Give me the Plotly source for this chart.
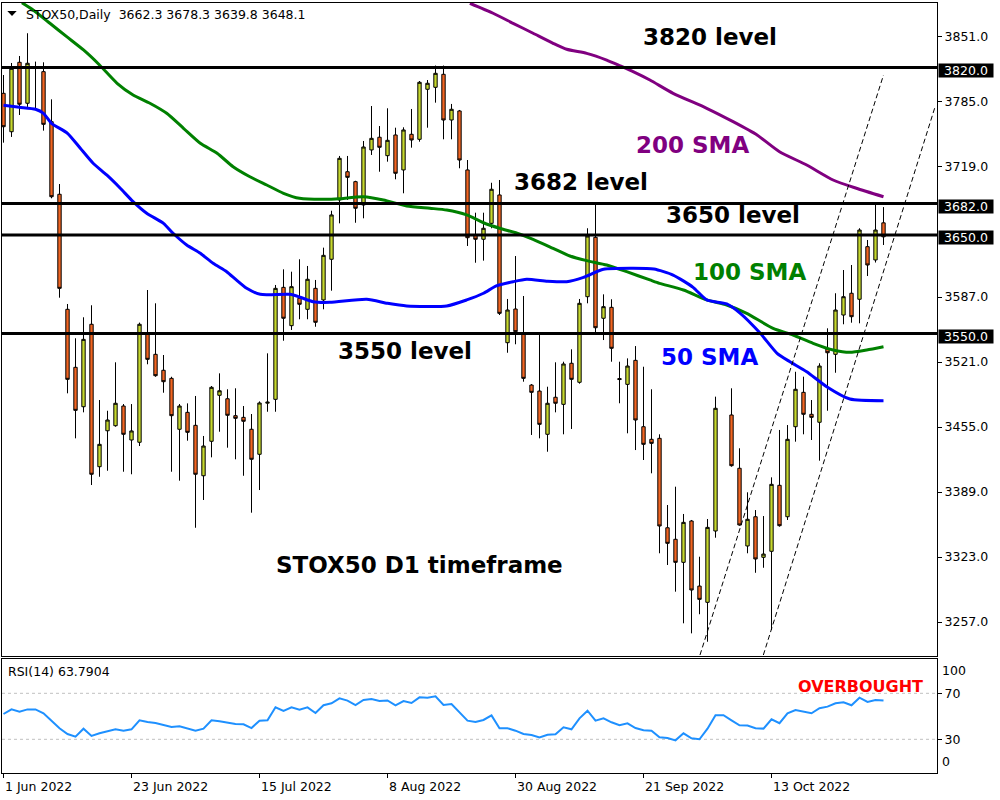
import plotly.graph_objects as go

# ---------------- data ----------------
# bar slots (one slot per trading day); slot 90 has no candle in the chart
bar_pos = list(range(0, 90)) + list(range(91, 111))

opens = [
    3793.8, 3754.8, 3825.3, 3783.7, 3819.0, 3815.8, 3765.0, 3691.3, 3574.5, 3515.6,
    3475.6, 3559.3, 3414.7, 3451.2, 3456.3, 3476.3, 3441.8, 3439.5, 3549.1, 3528.8,
    3512.6, 3504.4, 3452.7, 3469.9, 3456.7, 3405.5, 3440.5, 3487.2, 3483.7, 3466.5,
    3464.8, 3452.7, 3427.3, 3479.2, 3483.1, 3596.8, 3557.9, 3585.7, 3574.5, 3595.8,
    3584.0, 3625.3, 3685.5, 3714.2, 3704.1, 3680.4, 3736.3, 3749.2, 3730.5, 3751.5,
    3716.0, 3752.2, 3747.1, 3797.9, 3799.9, 3813.1, 3766.7, 3775.9, 3716.0, 3649.9,
    3645.6, 3661.8, 3690.6, 3540.6, 3574.8, 3550.1, 3497.6, 3491.5, 3447.6, 3485.2,
    3478.0, 3519.7, 3500.4, 3587.3, 3647.6, 3565.4, 3576.5, 3504.2, 3498.3, 3522.7,
    3455.3, 3442.5, 3443.5, 3352.7, 3341.0, 3317.6, 3359.6, 3293.5, 3277.0, 3349.4,
    3467.2, 3413.1, 3334.2, 3363.9, 3322.7, 3328.8, 3395.8, 3363.9, 3455.3, 3490.2,
    3467.9, 3459.8, 3534.2, 3528.8, 3568.7, 3590.8, 3584.7, 3638.1, 3624.6, 3662.3,
]
highs = [
    3812.4, 3824.6, 3831.7, 3854.8, 3826.0, 3825.3, 3787.7, 3701.7, 3579.9, 3545.1,
    3566.4, 3578.6, 3482.4, 3471.5, 3520.7, 3478.3, 3478.3, 3561.0, 3594.1, 3580.6,
    3528.1, 3506.0, 3478.3, 3479.0, 3486.5, 3445.9, 3496.6, 3509.5, 3493.3, 3494.3,
    3476.3, 3468.2, 3481.0, 3529.8, 3599.2, 3615.1, 3612.7, 3625.3, 3618.5, 3604.3,
    3637.1, 3674.6, 3730.2, 3730.2, 3705.0, 3745.4, 3780.9, 3760.6, 3778.6, 3758.9,
    3759.3, 3777.9, 3806.3, 3807.3, 3822.0, 3822.0, 3783.0, 3776.9, 3726.1, 3672.6,
    3672.6, 3703.0, 3705.8, 3585.0, 3628.6, 3588.0, 3498.6, 3548.4, 3495.9, 3520.7,
    3521.3, 3533.9, 3585.0, 3656.8, 3682.0, 3589.7, 3584.7, 3521.3, 3524.7, 3537.2,
    3516.2, 3493.3, 3447.6, 3375.8, 3394.4, 3366.7, 3360.6, 3323.3, 3361.6, 3485.8,
    3494.3, 3433.4, 3388.7, 3370.7, 3364.6, 3403.9, 3452.0, 3457.0, 3511.1, 3506.1,
    3482.4, 3519.7, 3555.2, 3590.8, 3614.4, 3619.5, 3656.8, 3644.9, 3682.1, 3678.3,
]
lows = [
    3743.7, 3749.5, 3771.8, 3780.0, 3777.0, 3755.9, 3687.2, 3586.3, 3489.2, 3443.5,
    3469.9, 3396.1, 3404.5, 3410.6, 3455.3, 3409.6, 3407.0, 3435.7, 3518.7, 3506.0,
    3489.8, 3409.6, 3400.5, 3441.1, 3352.7, 3380.9, 3424.2, 3450.2, 3434.0, 3422.2,
    3405.5, 3368.0, 3391.0, 3470.5, 3470.5, 3542.6, 3553.5, 3564.4, 3564.4, 3556.8,
    3574.5, 3593.4, 3661.8, 3685.5, 3662.4, 3666.9, 3731.2, 3714.2, 3724.4, 3706.5,
    3692.3, 3738.6, 3744.7, 3758.9, 3784.3, 3747.1, 3747.1, 3717.7, 3638.8, 3621.8,
    3623.9, 3656.8, 3568.7, 3530.4, 3539.0, 3501.0, 3446.9, 3443.5, 3429.9, 3469.9,
    3447.6, 3453.0, 3499.0, 3580.6, 3549.1, 3543.3, 3521.3, 3479.1, 3448.6, 3431.6,
    3421.5, 3408.0, 3326.8, 3314.9, 3287.8, 3255.7, 3245.5, 3264.9, 3237.0, 3342.6,
    3414.7, 3354.8, 3326.8, 3307.0, 3312.1, 3248.9, 3353.8, 3360.6, 3440.1, 3447.6,
    3441.8, 3420.8, 3471.5, 3510.1, 3559.3, 3560.9, 3560.3, 3608.3, 3622.0, 3639.8,
]
closes = [
    3759.9, 3819.2, 3782.7, 3824.3, 3821.0, 3762.3, 3688.8, 3595.8, 3503.4, 3471.9,
    3544.0, 3407.0, 3437.4, 3462.1, 3479.1, 3447.6, 3451.0, 3559.3, 3523.7, 3507.1,
    3501.0, 3466.5, 3476.3, 3449.6, 3407.0, 3435.7, 3495.3, 3491.8, 3466.9, 3463.8,
    3460.8, 3422.2, 3479.4, 3480.2, 3595.8, 3565.4, 3597.5, 3579.6, 3605.0, 3561.3,
    3629.3, 3670.3, 3727.8, 3708.5, 3677.1, 3739.3, 3748.1, 3739.0, 3746.1, 3712.6,
    3756.6, 3746.4, 3805.0, 3804.0, 3814.1, 3766.7, 3777.6, 3726.1, 3647.2, 3645.6,
    3656.8, 3696.4, 3570.4, 3573.8, 3551.8, 3504.4, 3490.2, 3457.7, 3479.1, 3479.1,
    3519.0, 3503.4, 3580.6, 3648.9, 3555.8, 3577.2, 3534.9, 3503.2, 3516.9, 3462.1,
    3437.4, 3438.4, 3354.5, 3336.9, 3317.6, 3358.2, 3289.5, 3280.0, 3353.1, 3474.0,
    3415.7, 3355.5, 3361.3, 3321.0, 3326.0, 3396.8, 3354.8, 3442.5, 3493.3, 3467.9,
    3464.8, 3516.9, 3530.4, 3573.8, 3587.3, 3567.0, 3655.0, 3619.5, 3655.0, 3648.1,
]

rsi_pos = list(range(0, 111))
rsi_vals = [
    52.0, 56.1, 54.0, 56.0, 56.0, 52.6, 46.2, 39.6, 34.6, 32.3,
    39.2, 32.9, 35.2, 37.2, 38.7, 37.5, 38.7, 46.5, 45.0, 44.2,
    42.7, 40.7, 41.3, 39.6, 37.5, 39.2, 46.5, 45.6, 44.2, 43.4,
    43.1, 39.8, 46.2, 46.5, 57.8, 54.6, 57.8, 55.7, 57.8, 52.9,
    59.6, 61.3, 65.6, 63.6, 59.8, 64.2, 65.0, 63.3, 63.8, 59.6,
    63.3, 61.6, 66.5, 66.2, 67.4, 59.8, 60.7, 53.5, 46.2, 45.0,
    46.8, 50.8, 39.6, 39.6, 37.5, 34.6, 33.7, 31.7, 34.0, 34.3,
    40.4, 38.7, 48.2, 54.9, 46.2, 48.2, 44.8, 42.2, 43.9, 39.8,
    37.8, 37.5, 31.7, 31.2, 29.1, 35.2, 30.9, 30.0, 39.2, 50.9,
    50.9, 46.5, 42.2, 42.0, 39.6, 39.3, 47.4, 44.0, 52.6, 55.5,
    54.0, 52.6, 57.0, 58.4, 61.3, 62.2, 59.6, 66.2, 62.5, 64.2, 63.8,
]

sma50_pos = [0, 2, 4, 5, 6, 8, 9.6, 11.2, 12.9, 14.6, 16.2, 17.9, 20, 21.2, 22.9, 24.6,
             26.2, 27.9, 29.1, 30.4, 32.1, 35.8, 37.1, 38.7, 40.8, 45.4, 48, 50.4, 55.4,
             57.9, 60, 61.6, 63.7, 65.4, 68, 70.4, 72.5, 75, 78.7, 81.3, 83.7, 86.2, 87.9,
             90.4, 92.1, 94.6, 96.7, 98.3, 100.4, 102.9, 105.8, 110]
sma50_vals = [3781.6, 3779.6, 3777.6, 3773.5, 3763.4, 3753.2, 3738.0, 3722.8, 3710.9, 3697.4,
              3683.8, 3672.0, 3661.8, 3651.7, 3639.8, 3631.4, 3621.2, 3612.7, 3604.3, 3595.8,
              3589.7, 3589.7, 3586.7, 3582.2, 3581.6, 3584.7, 3580.6, 3577.9, 3577.9, 3584.0,
              3590.8, 3598.2, 3602.5, 3605.0, 3603.0, 3602.5, 3607.0, 3615.1, 3616.1, 3615.4,
              3609.3, 3596.8, 3584.0, 3579.9, 3570.4, 3550.1, 3529.8, 3521.3, 3511.1, 3495.9,
              3483.4, 3481.7]

sma100_pos = [2.3, 3.7, 5.8, 7.9, 10, 12, 14.2, 16.2, 18.3, 20.4, 22.5, 24.6, 26.7, 28.7,
              30.8, 32.9, 35, 37, 40.8, 42, 45, 47.5, 50.4, 53.3, 55.4, 57.9, 60, 62, 64.2,
              66.2, 68.7, 70.8, 72.9, 75.4, 77.9, 80.8, 82, 85, 87.9, 90.4, 92.9, 96.2, 98.7,
              101.2, 103.7, 105.8, 107.9, 110]
sma100_vals = [3885.8, 3878.4, 3864.9, 3851.3, 3837.8, 3822.6, 3804.0, 3792.1, 3783.7, 3773.5,
               3758.3, 3743.1, 3732.9, 3719.3, 3709.1, 3700.7, 3692.3, 3687.2, 3686.2, 3686.8,
               3688.8, 3685.5, 3679.4, 3677.1, 3675.3, 3670.3, 3662.4, 3656.8, 3651.7, 3645.6,
               3636.4, 3628.6, 3623.9, 3619.5, 3612.7, 3604.3, 3600.9, 3594.1, 3584.0, 3578.9,
               3570.4, 3555.2, 3548.4, 3540.0, 3533.2, 3530.8, 3533.2, 3536.5]

sma200_pos = [58.3, 61.2, 63.7, 66.2, 68.7, 70.4, 72.9, 75.4, 77.1, 78.7, 80.8, 83.7, 87.9,
              91.2, 94.2, 97, 100.4, 103.7, 106.6, 110]
sma200_vals = [3885.2, 3875.1, 3864.9, 3854.8, 3844.6, 3838.5, 3834.4, 3827.6, 3821.6, 3815.8,
               3807.3, 3793.8, 3778.6, 3765.0, 3751.5, 3734.5, 3721.0, 3705.8, 3697.4, 3688.8]

levels = [3820.0, 3682.0, 3650.0, 3550.0]
price_ticks = [3851.0, 3785.0, 3719.0, 3587.0, 3521.0, 3455.0, 3389.0, 3323.0, 3257.0]
rsi_levels = [70, 30]
rsi_ticks = [70, 30]
rsi_edge_labels = [100, 0]

date_tick_pos = [0, 16, 32, 48, 64, 80, 96]
date_tick_text = ["1 Jun 2022", "23 Jun 2022", "15 Jul 2022", "8 Aug 2022",
                  "30 Aug 2022", "21 Sep 2022", "13 Oct 2022"]

trend_pos = [[87.06, 110.0], [94.98, 116.4]]
trend_price = [[3223.5, 3812.4], [3223.5, 3778.9]]

label_text = ["3820 level", "200 SMA", "3682 level", "3650 level", "100 SMA",
              "50 SMA", "3550 level", "STOX50 D1 timeframe"]
label_pos = [79.8, 78.9, 63.65, 82.7, 86.0, 82.0, 41.65, 33.9]
label_price = [3851.0, 3741.3, 3703.5, 3670.0, 3612.4, 3526.1, 3531.8, 3314.6]
label_color = ["black", "#800080", "black", "black", "#008000", "#0000FF", "black", "black"]

symbol = "STOX50"
timeframe = "Daily"
rsi_period = 14
rsi_last = 63.7904
overbought_pos = 99.15
overbought_val = 75.5

# ---------------- styles ----------------
BULL = "#C6D82E"
BEAR = "#F26522"
FONT = "DejaVu Sans"
SMALL = 12.5
BIG = 23

assert len(bar_pos) == len(opens) == len(highs) == len(lows) == len(closes)
assert len(rsi_pos) == len(rsi_vals)
assert len(sma50_pos) == len(sma50_vals)
assert len(sma100_pos) == len(sma100_vals)
assert len(sma200_pos) == len(sma200_vals)

XR = [-0.1875, 116.6875]

fig = go.Figure()

for pos, vals, col in [(sma100_pos, sma100_vals, "#008000"),
                       (sma50_pos, sma50_vals, "#0000FF"),
                       (sma200_pos, sma200_vals, "#800080")]:
    fig.add_trace(go.Scatter(x=pos, y=vals, mode="lines", xaxis="x", yaxis="y",
                             line=dict(color=col, width=3, shape="spline", smoothing=0.6),
                             hoverinfo="skip", showlegend=False))

fig.add_trace(go.Candlestick(
    x=bar_pos, open=opens, high=highs, low=lows, close=closes,
    xaxis="x", yaxis="y",
    increasing=dict(fillcolor=BULL, line=dict(color="black", width=1)),
    decreasing=dict(fillcolor=BEAR, line=dict(color="black", width=1)),
    whiskerwidth=0, showlegend=False, hoverinfo="skip"))

fig.add_trace(go.Scatter(x=rsi_pos, y=rsi_vals, mode="lines", xaxis="x2", yaxis="y2",
                         line=dict(color="#1E90FF", width=2), hoverinfo="skip", showlegend=False))

shapes = []
for lv in levels:
    shapes.append(dict(type="line", xref="x domain", x0=0, x1=1, yref="y", y0=lv, y1=lv,
                       line=dict(color="black", width=3), layer="above"))
for tp, tv in zip(trend_pos, trend_price):
    shapes.append(dict(type="line", xref="x", yref="y", x0=tp[0], x1=tp[1], y0=tv[0], y1=tv[1],
                       line=dict(color="black", width=1, dash="5px,3px"), layer="above"))
for lv in rsi_levels:
    shapes.append(dict(type="line", xref="x2 domain", x0=0, x1=1, yref="y2", y0=lv, y1=lv,
                       line=dict(color="#C0C0C0", width=1, dash="3px,3px"), layer="below"))
# small drop-down triangle of the chart header
shapes.append(dict(type="path", xref="paper", yref="paper", xsizemode="pixel", ysizemode="pixel",
                   xanchor=0, yanchor=1, path="M5.3,-8 L14.7,-8 L10,-13 Z",
                   fillcolor="black", line=dict(width=0)))

ann = []
for t, p, v, c in zip(label_text, label_pos, label_price, label_color):
    ann.append(dict(text=f"<b>{t}</b>", x=p, y=v, xref="x", yref="y", xanchor="left",
                    yanchor="middle", showarrow=False, borderpad=0,
                    font=dict(family=FONT, size=BIG, color=c)))
for lv in levels:
    ann.append(dict(text=f"{lv:.1f}", x=1.0007, y=lv, xref="paper", yref="y", xanchor="left",
                    yanchor="middle", showarrow=False, bgcolor="black", borderpad=0,
                    width=54, height=13, yshift=-3, align="center",
                    font=dict(family=FONT, size=SMALL, color="white")))
for p, t in zip(date_tick_pos, date_tick_text):
    ann.append(dict(text=t, x=p, y=-0.0169, xref="x2", yref="paper", xanchor="left",
                    yanchor="middle", showarrow=False, borderpad=0,
                    font=dict(family=FONT, size=SMALL, color="black")))
for v in rsi_edge_labels:
    ann.append(dict(text=str(v), x=1.004, y=1 if v == 100 else 0, xref="paper",
                    yref="y2 domain", xanchor="left",
                    yanchor="top" if v == 100 else "bottom", yshift=-3 if v == 100 else 3,
                    showarrow=False, borderpad=0,
                    font=dict(family=FONT, size=SMALL, color="black")))
header = (f"{symbol},{timeframe}&nbsp;&nbsp;{opens[-1]:.1f} {highs[-1]:.1f} "
          f"{lows[-1]:.1f} {closes[-1]:.1f}")
ann.append(dict(text=header, x=0.0246, y=0.9853, xref="paper", yref="paper",
                xanchor="left", yanchor="middle", showarrow=False, borderpad=0,
                font=dict(family=FONT, size=SMALL, color="black")))
ann.append(dict(text=f"RSI({rsi_period}) {rsi_last:.4f}", x=0.0057, y=0.886,
                xref="paper", yref="y2 domain", xanchor="left", yanchor="middle",
                showarrow=False, borderpad=0, font=dict(family=FONT, size=SMALL, color="black")))
ann.append(dict(text="<b>OVERBOUGHT</b>", x=overbought_pos, y=overbought_val, xref="x2", yref="y2",
                xanchor="left", yanchor="middle", showarrow=False, borderpad=0,
                font=dict(family=FONT, size=16, color="#FF0000")))

axis_common = dict(showline=True, mirror=True, linecolor="black", linewidth=1,
                   showgrid=False, zeroline=False)

fig.update_layout(
    width=1000, height=800,
    margin=dict(l=2, r=63, t=3, b=27),
    paper_bgcolor="white", plot_bgcolor="white",
    showlegend=False, boxgap=0.4, hovermode=False,
    shapes=shapes, annotations=ann,
    xaxis=dict(domain=[0, 1], range=XR, anchor="y", showticklabels=False, ticks="",
               rangeslider=dict(visible=False), **axis_common),
    yaxis=dict(domain=[0.151948, 1], range=[3222.5, 3885.5], side="right", anchor="x",
               tickvals=price_ticks, ticktext=[f"{v:.1f}" for v in price_ticks],
               ticks="outside", ticklen=4, tickcolor="black",
               tickfont=dict(family=FONT, size=SMALL, color="black"), **axis_common),
    xaxis2=dict(domain=[0, 1], range=XR, anchor="y2", matches="x", showticklabels=False,
                tickvals=date_tick_pos, ticks="outside", ticklen=4, tickcolor="black",
                rangeslider=dict(visible=False), **axis_common),
    yaxis2=dict(domain=[0, 0.148052], range=[0.70, 99.83], side="right", anchor="x2",
                tickvals=rsi_ticks, ticktext=[str(v) for v in rsi_ticks],
                ticks="outside", ticklen=4, tickcolor="black",
                tickfont=dict(family=FONT, size=SMALL, color="black"), **axis_common),
)

fig.write_html("out.html", config={"displayModeBar": False, "staticPlot": True},
               post_script="document.body.style.margin='0';document.body.style.overflow='hidden';")
